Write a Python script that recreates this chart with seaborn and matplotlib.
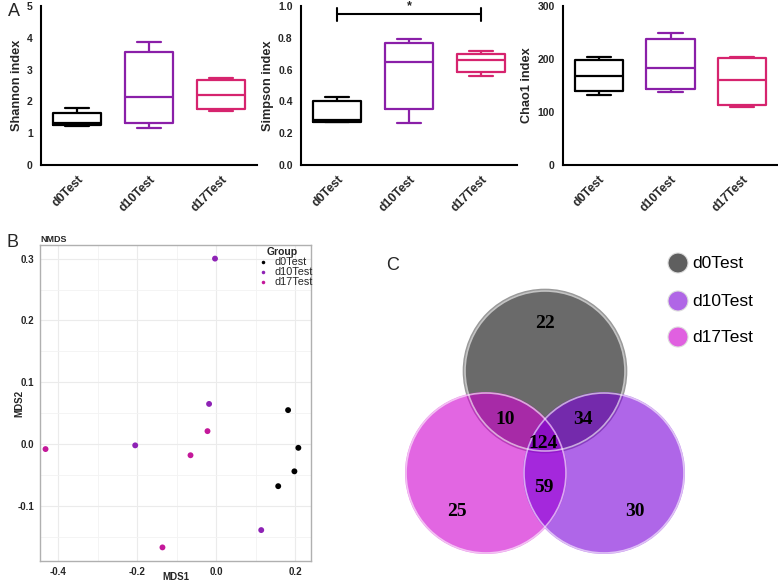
import numpy as np
import pandas as pd
import matplotlib
matplotlib.use('Agg')
import matplotlib.pyplot as plt
import seaborn as sns
from matplotlib.patches import Circle

# ------------------------------------------------------------------
# Data
# ------------------------------------------------------------------

groups = ['d0Test', 'd10Test', 'd17Test']

# Panel A: five values per group (min, q1, median, q3, max), min-max whiskers
shannon_d0 = [1.23, 1.27, 1.31, 1.65, 1.78]
shannon_d10 = [1.15, 1.31, 2.15, 3.54, 3.87]
shannon_d17 = [1.70, 1.77, 2.20, 2.68, 2.74]

simpson_d0 = [0.268, 0.272, 0.285, 0.40, 0.43]
simpson_d10 = [0.265, 0.35, 0.65, 0.77, 0.79]
simpson_d17 = [0.56, 0.585, 0.66, 0.70, 0.715]

chao1_d0 = [133, 139, 167, 198, 204]
chao1_d10 = [138, 144, 183, 238, 249]
chao1_d17 = [110, 114, 161, 201, 204]

# Panel B: NMDS coordinates
nmds_d0_x = [0.182, 0.208, 0.198, 0.157]
nmds_d0_y = [0.055, -0.006, -0.044, -0.068]
nmds_d10_x = [-0.003, -0.018, -0.205, 0.114]
nmds_d10_y = [0.300, 0.065, -0.002, -0.139]
nmds_d17_x = [-0.432, -0.022, -0.065, -0.136]
nmds_d17_y = [-0.008, 0.021, -0.018, -0.167]

# Panel C: Venn counts
venn_only_d0 = 22
venn_d0_d17 = 10
venn_d0_d10 = 34
venn_all = 124
venn_d10_d17 = 59
venn_only_d17 = 25
venn_only_d10 = 30

box_colors = ['#000000', '#8a1fa8', '#d6246e']
nmds_colors = ['#000000', '#8e22b5', '#c4189a']

# ------------------------------------------------------------------
# Figure
# ------------------------------------------------------------------

sns.set_style('white')
plt.rcParams['font.family'] = ['Liberation Sans', 'DejaVu Sans']

W, H = 778, 584
fig = plt.figure(figsize=(W / 100, H / 100), dpi=100)


def px_axes(x0, y0, x1, y1):
    # axes from pixel box (top-left origin)
    return fig.add_axes([x0 / W, 1 - y1 / H, (x1 - x0) / W, (y1 - y0) / H])


def long_df(a, b, c):
    return pd.DataFrame({'Group': [groups[0]] * len(a) + [groups[1]] * len(b) + [groups[2]] * len(c),
                         'value': list(a) + list(b) + list(c)})


def prism_box(ax, df, ymax, yticks, ylabel, fmt):
    sns.boxplot(data=df, x='Group', y='value', hue='Group', palette=box_colors,
                fill=False, whis=(0, 100), width=0.67, linewidth=1.6,
                showfliers=False, legend=False, ax=ax)
    ax.set_xlim(-0.5, 2.5)
    ax.set_ylim(0, ymax)
    ax.set_yticks(yticks)
    ax.set_yticklabels([fmt.format(t) for t in yticks], fontsize=7.5, fontweight='bold')
    ax.set_xticks(range(3))
    ax.set_xticklabels(groups, rotation=45, ha='right', rotation_mode='anchor',
                       fontsize=8.8, fontweight='bold')
    ax.set_xlabel('')
    ax.set_ylabel(ylabel, fontsize=9.2, fontweight='bold', labelpad=3)
    for s in ['top', 'right']:
        ax.spines[s].set_visible(False)
    for s in ['left', 'bottom']:
        ax.spines[s].set_linewidth(1.5)
        ax.spines[s].set_color('black')
    ax.tick_params(direction='out', length=4, width=1.5, color='black', pad=2)


# Panel A
ax1 = px_axes(41, 6, 257, 165)
prism_box(ax1, long_df(shannon_d0, shannon_d10, shannon_d17), 5, [0, 1, 2, 3, 4, 5],
          'Shannon index', '{:.0f}')

ax2 = px_axes(301, 6, 517, 165)
prism_box(ax2, long_df(simpson_d0, simpson_d10, simpson_d17), 1.0,
          [0, 0.2, 0.4, 0.6, 0.8, 1.0], 'Simpson index', '{:.1f}')
ax2.plot([0, 0], [0.905, 0.985], color='black', lw=1.5, clip_on=False)
ax2.plot([2, 2], [0.905, 0.985], color='black', lw=1.5, clip_on=False)
ax2.plot([0, 2], [0.95, 0.95], color='black', lw=1.5, clip_on=False)
ax2.text(1, 0.962, '*', ha='center', va='bottom', fontsize=9, fontweight='bold')

ax3 = px_axes(563, 6, 778, 165)
prism_box(ax3, long_df(chao1_d0, chao1_d10, chao1_d17), 300, [0, 100, 200, 300],
          'Chao1 index', '{:.0f}')

# Panel B
ax_b = px_axes(40, 245, 311, 561)
nmds = pd.DataFrame({
    'MDS1': nmds_d0_x + nmds_d10_x + nmds_d17_x,
    'MDS2': nmds_d0_y + nmds_d10_y + nmds_d17_y,
    'Group': [groups[0]] * 4 + [groups[1]] * 4 + [groups[2]] * 4,
})
sns.scatterplot(data=nmds, x='MDS1', y='MDS2', hue='Group', palette=nmds_colors,
                s=18, edgecolor='none', ax=ax_b)
ax_b.set_xlim(-0.446, 0.24)
ax_b.set_ylim(-0.189, 0.322)
ax_b.set_xticks([-0.4, -0.2, 0.0, 0.2])
ax_b.set_xticklabels(['-0.4', '-0.2', '0.0', '0.2'], fontsize=7, fontweight='bold')
ax_b.set_yticks([-0.1, 0.0, 0.1, 0.2, 0.3])
ax_b.set_yticklabels(['-0.1', '0.0', '0.1', '0.2', '0.3'], fontsize=7, fontweight='bold')
ax_b.set_xticks([-0.3, -0.1, 0.1], minor=True)
ax_b.set_yticks([-0.15, -0.05, 0.05, 0.15, 0.25], minor=True)
ax_b.grid(which='major', color='#ebebeb', lw=0.8)
ax_b.grid(which='minor', color='#f3f3f3', lw=0.6)
ax_b.tick_params(which='major', length=2.5, width=0.6, color='#444444', pad=1.5)
ax_b.tick_params(which='minor', length=0)
for s in ax_b.spines.values():
    s.set_color('#b0b0b0')
    s.set_linewidth(1.0)
ax_b.set_xlabel('MDS1', fontsize=7, fontweight='bold')
ax_b.set_ylabel('MDS2', fontsize=7, fontweight='bold')
ax_b.xaxis.set_label_coords(0.5, -0.036)
ax_b.yaxis.set_label_coords(-0.058, 0.5)
ax_b.set_title('NMDS', loc='left', fontsize=6.5, fontweight='bold', pad=2)
leg = ax_b.legend(title='Group', loc='upper right', bbox_to_anchor=(318 / W, 1 - 242 / H),
                  bbox_transform=fig.transFigure, frameon=False, fontsize=7.8,
                  title_fontsize=7.5, handletextpad=0.0, labelspacing=0.0,
                  borderpad=0, markerscale=0.6)
leg.get_title().set_fontweight('bold')

# Panel C: Venn diagram, drawn in pixel units
ax_c = px_axes(370, 230, 778, 584)
ax_c.set_xlim(370, 778)
ax_c.set_ylim(584, 230)
ax_c.axis('off')

ax_c.add_patch(Circle((545, 371), 81.5, facecolor='#6a6a6a', edgecolor='#9a9a9a', lw=1.2))
ax_c.add_patch(Circle((486, 473), 81, facecolor=(208 / 255, 0, 208 / 255), alpha=0.6,
                      edgecolor='none'))
ax_c.add_patch(Circle((604, 473), 81, facecolor=(123 / 255, 0, 217 / 255), alpha=0.6,
                      edgecolor='none'))
for cx, cy in [(545, 371), (486, 473), (604, 473)]:
    ax_c.add_patch(Circle((cx, cy), 80, facecolor='none', edgecolor='white', lw=1.2, alpha=0.6))

venn_pos = [(545, 323), (505, 419), (583, 419), (543, 443), (544, 487), (457, 512), (635, 512)]
venn_vals = [venn_only_d0, venn_d0_d17, venn_d0_d10, venn_all, venn_d10_d17,
             venn_only_d17, venn_only_d10]
for (tx, ty), v in zip(venn_pos, venn_vals):
    ax_c.text(tx, ty, str(v), ha='center', va='center', fontsize=14, fontweight='bold',
              family='Liberation Serif', color='black')

leg_colors = ['#5f5f5f', '#b066e6', '#e060e0']
for (ly, name, col) in zip([263, 301, 337], groups, leg_colors):
    ax_c.add_patch(Circle((678, ly), 10, facecolor=col, edgecolor='#dddddd', lw=0.8))
    ax_c.text(692, ly, name, ha='left', va='center', fontsize=12.5, color='black')

# Panel letters
fig.text(8 / W, 1 - 12 / H, 'A', fontsize=13, va='center', ha='left')
fig.text(7 / W, 1 - 243 / H, 'B', fontsize=13, va='center', ha='left')
fig.text(393 / W, 1 - 265 / H, 'C', fontsize=13, va='center', ha='center')

fig.savefig('out.png', dpi=100)
